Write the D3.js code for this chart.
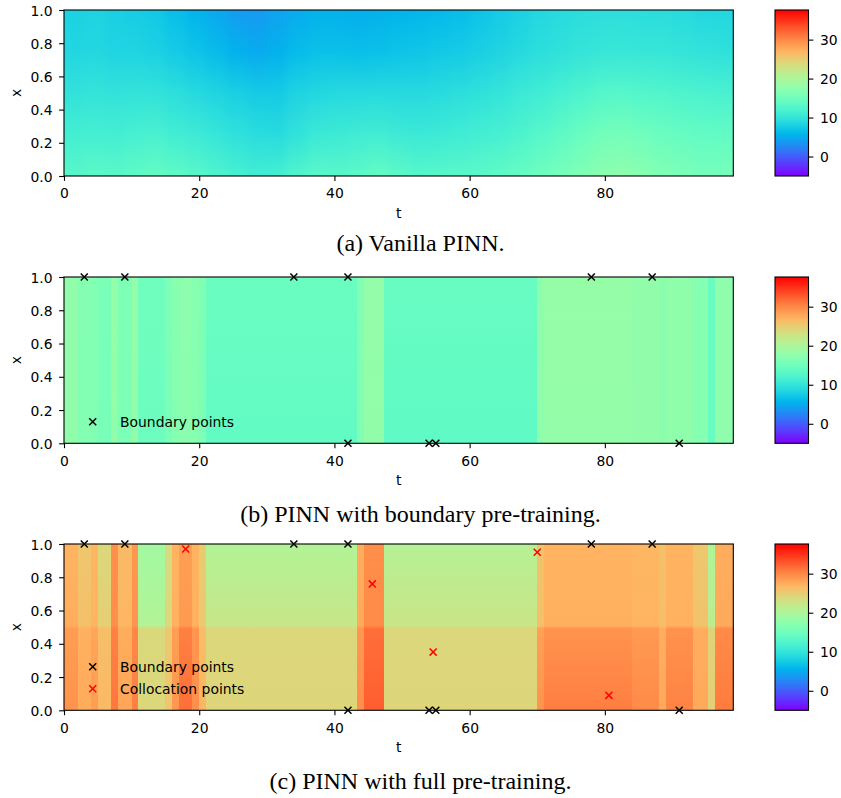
<!DOCTYPE html>
<html><head><meta charset="utf-8">
<script src="https://cdn.jsdelivr.net/npm/d3@7"></script>
<style>body{margin:0;background:#fff} svg{display:block}</style>
</head><body>
<svg id="chart" width="841" height="798"></svg>
<script>
// ---------------- data ----------------
const T_MAX = 99;
const V_MIN = -5, V_MAX = 37.6;
const xTicks = [0, 20, 40, 60, 80];
const yTicks = [0, 0.2, 0.4, 0.6, 0.8, 1.0];
const cbTicks = [0, 10, 20, 30];
const captions = ["(a) Vanilla PINN.", "(b) PINN with boundary pre-training.", "(c) PINN with full pre-training."];
const legendLabels = ["Boundary points", "Collocation points"];

// panel (a): smooth field, columns of width 3 in t, values at x = 0, .25, .5, .75, 1
const A_STEP = 3;
const aStart = [0,3,6,9,12,15,18,21,24,27,30,33,36,39,42,45,48,51,54,57,60,63,66,69,72,75,78,81,84,87,90,93,96];
const aLevels = [0, 0.25, 0.5, 0.75, 1];
const aX0   = [13.0,13.3,13.2,13.6,14.0,13.6,13.0,12.3,11.6,11.2,11.4,12.4,13.2,13.0,13.4,14.0,13.4,12.8,12.9,13.1,13.3,13.6,14.2,14.8,15.5,16.3,17.2,17.5,17.0,16.3,15.8,15.4,15.6];
const aX25  = [11.3,11.5,11.3,11.6,11.8,11.2,10.8,10.2,9.6,9.2,9.0,9.8,10.6,10.8,11.0,11.2,10.8,10.6,10.8,11.0,11.3,11.6,12.2,12.8,13.6,14.4,15.2,15.4,15.0,14.6,14.2,13.9,13.8];
const aX50  = [9.8,10.0,9.8,9.9,9.8,9.3,8.8,8.3,7.8,7.4,7.4,8.2,8.6,8.8,8.8,8.9,8.8,8.8,9.0,9.3,9.6,10.0,10.6,11.0,11.6,12.2,12.7,12.8,12.6,12.4,12.2,12.0,11.8];
const aX75  = [8.5,8.6,8.3,8.3,8.0,7.4,6.8,6.2,5.4,5.0,5.4,6.2,6.6,6.6,6.4,6.6,6.8,7.0,7.2,7.4,7.8,8.2,8.8,9.3,9.7,10.0,10.3,10.4,10.3,10.2,10.0,9.8,9.6];
const aX100 = [8.0,8.2,7.8,7.6,7.2,6.4,5.6,4.8,4.0,3.8,4.4,5.0,5.4,5.4,5.2,5.4,5.6,5.8,6.0,6.3,6.8,7.4,8.0,8.6,8.9,9.2,9.3,9.3,9.2,9.2,8.9,8.6,8.5];

// panels (b) and (c): vertical stripes in t
const stripeStart = [0,2,4,5,7,8,10,11,15,16,17,19,20,21,43.3,44.4,47.3,70,71,84,88,89,93,95.2,96.3];
const stripeEnd   = [2,4,5,7,8,10,11,15,16,17,19,20,21,43.3,44.4,47.3,70,71,84,88,89,93,95.2,96.3,99];
const bLevels = [0, 1];
const bX0   = [17.8,16.5,16.3,15.6,17.8,16.0,17.8,14.7,15.8,16.8,17.2,16.8,16.0,13.8,16.3,17.8,13.6,17.5,18.0,17.8,17.3,17.5,16.8,14.3,17.5];
const bX100 = [17.8,16.8,16.5,15.8,18.0,16.2,18.0,15.0,16.0,17.0,17.4,17.0,16.3,14.5,16.5,18.0,14.3,17.5,18.2,17.8,17.3,17.6,16.8,14.3,17.5];
const cLevels = [0, 0.49, 0.51, 1];
const cX0   = [29.3,27.6,28.6,26.6,31.0,28.0,30.5,24.0,25.6,29.0,31.5,29.5,26.8,24.2,29.5,32.5,24.2,29.3,30.6,29.8,27.8,30.3,27.8,24.8,30.8];
const cX49  = [28.6,27.2,28.0,26.2,30.4,27.5,30.0,23.8,25.3,28.5,30.5,29.0,26.3,24.0,29.0,31.5,24.0,28.3,29.2,28.8,27.4,29.3,27.4,24.4,29.8];
const cX51  = [27.5,26.0,27.0,24.8,29.5,26.8,29.2,20.5,24.0,27.2,28.8,27.2,25.3,22.3,27.8,29.8,22.5,26.0,27.3,27.0,26.2,27.2,25.8,21.5,27.8];
const cX100 = [27.0,25.5,26.8,24.0,29.5,26.5,29.0,19.2,23.5,27.0,28.5,27.0,25.0,20.5,27.5,29.5,20.8,25.8,27.0,26.8,26.0,27.0,25.5,20.3,27.5];

// scatter points
const boundaryT = [3, 9, 34, 42, 78, 87, 42, 54, 55, 91];
const boundaryX = [1, 1, 1, 1, 1, 1, 0, 0, 0, 0];
const collocT = [18, 45.6, 70, 54.6, 80.6];
const collocX = [0.97, 0.76, 0.95, 0.35, 0.09];

// ---------------- drawing ----------------
const W = 841, H = 798;
const svg = d3.select('#chart');
svg.append('rect').attr('width', W).attr('height', H).attr('fill', '#fff');
const defs = svg.append('defs');

const FONT = "'DejaVu Sans', sans-serif";
const FS = 13.9;
const plotLeft = 64, plotRight = 733.3, cbLeft = 775, cbRight = 808.5;
const TICK = 4.9, LW = 1.1;

function rainbow(n) {
  n = Math.max(0, Math.min(1, n));
  const r = Math.min(1, Math.abs(2 * n - 0.5)), g = Math.sin(Math.PI * n), b = Math.cos(Math.PI * n / 2);
  return d3.rgb(r * 255, g * 255, b * 255).formatHex();
}
const color = d3.scaleSequential(rainbow).domain([V_MIN, V_MAX]);

const panels = [
  { key: 'a', top: 10, bottom: 176, capY: 251,
    starts: aStart, ends: aStart.map(s => s + A_STEP), levels: aLevels, vals: [aX0, aX25, aX50, aX75, aX100],
    blur: true, boundary: false, colloc: false },
  { key: 'b', top: 277, bottom: 443.3, capY: 522,
    starts: stripeStart, ends: stripeEnd, levels: bLevels, vals: [bX0, bX100],
    blur: false, boundary: true, colloc: false },
  { key: 'c', top: 544, bottom: 710.3, capY: 789,
    starts: stripeStart, ends: stripeEnd, levels: cLevels, vals: [cX0, cX49, cX51, cX100],
    blur: false, boundary: true, colloc: true }
];

// blur filter for the smooth panel (display smoothing, like imshow interpolation)
const flt = defs.append('filter').attr('id', 'smoothA')
  .attr('x', -0.02).attr('y', -0.02).attr('width', 1.04).attr('height', 1.04)
  .attr('color-interpolation-filters', 'sRGB');
flt.append('feGaussianBlur').attr('stdDeviation', '5 1.5');
const ct = flt.append('feComponentTransfer');
ct.append('feFuncA').attr('type', 'linear').attr('slope', 0).attr('intercept', 1);

const xMark = d3.symbol().type(d3.symbolTimes).size(34);

panels.forEach((p, pi) => {
  const x = d3.scaleLinear().domain([0, T_MAX]).range([plotLeft, plotRight]);
  const y = d3.scaleLinear().domain([0, 1]).range([p.bottom, p.top]);
  const g = svg.append('g');

  defs.append('clipPath').attr('id', 'clip' + p.key)
    .append('rect').attr('x', x(0)).attr('y', y(1)).attr('width', x(T_MAX) - x(0)).attr('height', y(0) - y(1));

  const outer = g.append('g').attr('clip-path', `url(#clip${p.key})`);
  const cellG = outer.append('g');
  if (p.blur) cellG.attr('filter', 'url(#smoothA)');

  const order = p.levels.map((l, j) => j).sort((a, b) => p.levels[b] - p.levels[a]);
  p.starts.forEach((s, i) => {
    const lg = defs.append('linearGradient').attr('id', `grad${p.key}${i}`)
      .attr('x1', 0).attr('y1', 0).attr('x2', 0).attr('y2', 1);
    order.forEach(j => {
      lg.append('stop')
        .attr('offset', (y(p.levels[j]) - y(1)) / (y(0) - y(1)))
        .attr('stop-color', color(p.vals[j][i]));
    });
  });
  cellG.selectAll('rect.cell').data(p.starts).join('rect')
    .attr('class', 'cell')
    .attr('x', s => x(s))
    .attr('y', y(1))
    .attr('width', (s, i) => x(p.ends[i]) - x(s) + 0.6)
    .attr('height', y(0) - y(1))
    .attr('fill', (s, i) => `url(#grad${p.key}${i})`)
    .attr('shape-rendering', 'crispEdges');

  g.append('rect').attr('x', x(0)).attr('y', y(1)).attr('width', x(T_MAX) - x(0)).attr('height', y(0) - y(1))
    .attr('fill', 'none').attr('stroke', '#000').attr('stroke-width', LW);

  const xa = g.append('g').attr('transform', `translate(0,${y(0)})`)
    .call(d3.axisBottom(x).tickValues(xTicks).tickSize(TICK).tickFormat(d3.format('d')));
  xa.select('.domain').remove();
  xa.selectAll('line').attr('stroke', '#000').attr('stroke-width', LW);
  xa.selectAll('text').attr('y', 22.3).attr('dy', null).attr('fill', '#000')
    .style('font-family', FONT).style('font-size', FS + 'px');

  const ya = g.append('g').attr('transform', `translate(${x(0)},0)`)
    .call(d3.axisLeft(y).tickValues(yTicks).tickSize(TICK).tickFormat(d3.format('.1f')));
  ya.select('.domain').remove();
  ya.selectAll('line').attr('stroke', '#000').attr('stroke-width', LW);
  ya.selectAll('text').attr('x', -11.5).attr('dy', '0.36em').attr('fill', '#000')
    .style('font-family', FONT).style('font-size', FS + 'px');

  g.append('text').text('t').attr('x', (x(0) + x(T_MAX)) / 2).attr('y', y(0) + 42)
    .attr('text-anchor', 'middle').style('font-family', FONT).style('font-size', FS + 'px');
  g.append('text').text('x')
    .attr('transform', `translate(20.5,${(y(0) + y(1)) / 2}) rotate(-90)`)
    .attr('text-anchor', 'middle').style('font-family', FONT).style('font-size', FS + 'px');

  const pts = [];
  if (p.boundary) boundaryT.forEach((t, i) => pts.push({ t, x: boundaryX[i], c: '#000' }));
  if (p.colloc) collocT.forEach((t, i) => pts.push({ t, x: collocX[i], c: '#ff0000' }));
  g.selectAll('path.pt').data(pts).join('path').attr('class', 'pt')
    .attr('d', xMark).attr('transform', d => `translate(${x(d.t)},${y(d.x)})`)
    .attr('fill', 'none').attr('stroke', d => d.c).attr('stroke-width', 1.5);

  const entries = [];
  if (p.boundary) entries.push({ label: legendLabels[0], c: '#000' });
  if (p.colloc) entries.push({ label: legendLabels[1], c: '#ff0000' });
  const nE = entries.length;
  entries.forEach((e, k) => {
    const ly = y(0) - 21.6 - (nE - 1 - k) * 22;
    g.append('path').attr('d', xMark).attr('transform', `translate(${x(0) + 28.7},${ly})`)
      .attr('fill', 'none').attr('stroke', e.c).attr('stroke-width', 1.5);
    g.append('text').text(e.label).attr('x', x(0) + 56).attr('y', ly).attr('dy', '0.36em')
      .style('font-family', FONT).style('font-size', FS + 'px').attr('fill', '#000');
  });

  const cy = d3.scaleLinear().domain([V_MIN, V_MAX]).range([p.bottom, p.top]);
  const cbg = defs.append('linearGradient').attr('id', 'cb' + p.key)
    .attr('x1', 0).attr('y1', 1).attr('x2', 0).attr('y2', 0);
  d3.range(0, 61).forEach(k => {
    const v = V_MIN + (V_MAX - V_MIN) * k / 60;
    cbg.append('stop').attr('offset', k / 60).attr('stop-color', color(v));
  });
  g.append('rect').attr('x', cbLeft).attr('y', cy(V_MAX)).attr('width', cbRight - cbLeft)
    .attr('height', cy(V_MIN) - cy(V_MAX)).attr('fill', `url(#cb${p.key})`)
    .attr('stroke', '#000').attr('stroke-width', LW);
  const ca = g.append('g').attr('transform', `translate(${cbRight},0)`)
    .call(d3.axisRight(cy).tickValues(cbTicks).tickSize(TICK).tickFormat(d3.format('d')));
  ca.select('.domain').remove();
  ca.selectAll('line').attr('stroke', '#000').attr('stroke-width', LW);
  ca.selectAll('text').attr('x', 11.5).attr('dy', '0.36em').attr('fill', '#000')
    .style('font-family', FONT).style('font-size', FS + 'px');

  svg.append('text').text(captions[pi]).attr('x', 420.5).attr('y', p.capY)
    .attr('text-anchor', 'middle')
    .style('font-family', "'Liberation Serif', 'Times New Roman', serif").style('font-size', '24px').attr('fill', '#000');
});
</script>
</body></html>
